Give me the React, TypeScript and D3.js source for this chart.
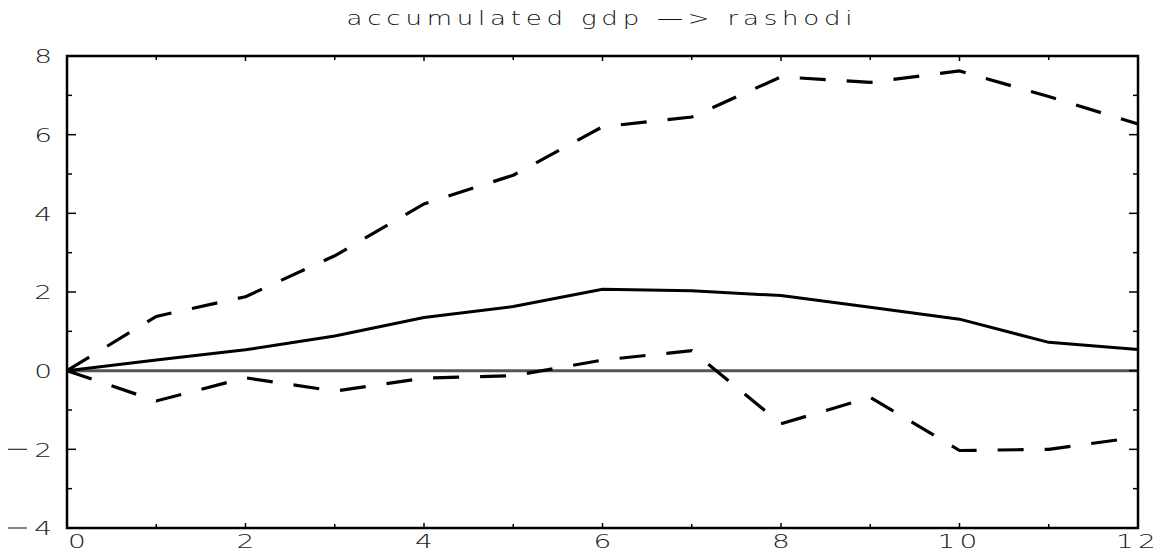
import React from "react";
import * as d3 from "d3";

const title = "accumulated gdp —> rashodi";
const horizon = [0, 1, 2, 3, 4, 5, 6, 7, 8, 9, 10, 11, 12];
const response = [0, 0.27, 0.53, 0.88, 1.35, 1.63, 2.07, 2.03, 1.91, 1.61, 1.31, 0.72, 0.54];
const upperBand = [0, 1.38, 1.88, 2.92, 4.24, 4.97, 6.2, 6.45, 7.47, 7.33, 7.62, 6.97, 6.27];
const lowerBand = [0, -0.77, -0.18, -0.52, -0.19, -0.13, 0.27, 0.51, -1.35, -0.68, -2.03, -2.0, -1.69];
const xTickLabels = [0, 2, 4, 6, 8, 10, 12];
const yTickLabels = [-4, -2, 0, 2, 4, 6, 8];

const W = 1165;
const H = 559;
const M = { left: 67, right: 27, top: 56, bottom: 31 };
const FONT = "'DejaVu Sans', sans-serif";

function Label(props: {
  x: number;
  y: number;
  anchor: "start" | "middle" | "end";
  sx: number;
  size: number;
  dy?: string;
  children: React.ReactNode;
  letterSpacing?: number;
}) {
  return (
    <g transform={`translate(${props.x},${props.y}) scale(${props.sx},1)`}>
      <text
        x={0}
        y={0}
        dy={props.dy}
        textAnchor={props.anchor}
        fontFamily={FONT}
        fontWeight={200}
        fontSize={props.size}
        letterSpacing={props.letterSpacing}
        fill="#222"
      >
        {props.children}
      </text>
    </g>
  );
}

export default function App() {
  const x = d3.scaleLinear().domain([0, 12]).range([M.left, W - M.right]);
  const y = d3.scaleLinear().domain([-4, 8]).range([H - M.bottom, M.top]);
  const line = (vals: number[]) =>
    d3
      .line<number>()
      .x((_, i) => x(horizon[i]))
      .y((v) => y(v))(vals) || "";

  const xMinor = d3.range(0, 13, 1);
  const yMinor = d3.range(-4, 9, 1);
  const [x0, x1] = x.range();
  const [yb, yt] = y.range();
  const titleSx = 1.3;

  return (
    <svg
      width={W}
      height={H}
      style={{ position: "absolute", left: 0, top: 0, background: "#fff" }}
    >
      <rect x={0} y={0} width={W} height={H} fill="#fff" />
      <g transform={`translate(${(x0 + x1) / 2 - 3},25) scale(${titleSx},1)`}>
        <text
          x={0}
          y={0}
          textAnchor="middle"
          fontFamily={FONT}
          fontWeight={200}
          fontSize={20}
          textLength={506 / titleSx}
          lengthAdjust="spacing"
          fill="#111"
        >
          {title}
        </text>
      </g>

      {/* zero line */}
      <line x1={x0} x2={x1} y1={y(0)} y2={y(0)} stroke="#555" strokeWidth={3} />

      {/* bands and response */}
      <path d={line(upperBand)} fill="none" stroke="#000" strokeWidth={3.2} strokeDasharray="26 21" />
      <path d={line(lowerBand)} fill="none" stroke="#000" strokeWidth={3.2} strokeDasharray="26 21" />
      <path d={line(response)} fill="none" stroke="#000" strokeWidth={3} />

      {/* frame */}
      <rect x={x0} y={yt} width={x1 - x0} height={yb - yt} fill="none" stroke="#000" strokeWidth={2.5} />

      {/* y ticks */}
      {yMinor.map((v) => {
        const len = v % 2 === 0 ? 9 : 5;
        return (
          <g key={"yt" + v}>
            <line x1={x0} x2={x0 + len} y1={y(v)} y2={y(v)} stroke="#000" strokeWidth={1.5} />
            <line x1={x1} x2={x1 - len} y1={y(v)} y2={y(v)} stroke="#000" strokeWidth={1.5} />
          </g>
        );
      })}
      {/* x ticks */}
      {xMinor.map((t) => {
        const len = t % 2 === 0 ? 5 : 4;
        return (
          <g key={"xt" + t}>
            <line x1={x(t)} x2={x(t)} y1={yb} y2={yb - len} stroke="#000" strokeWidth={1.5} />
            <line x1={x(t)} x2={x(t)} y1={yt} y2={yt + len} stroke="#000" strokeWidth={1.5} />
          </g>
        );
      })}

      {/* y labels */}
      {yTickLabels.map((v) => (
        <g key={"yl" + v}>
          <Label x={52} y={y(v)} dy="0.36em" anchor="end" sx={1.4} size={20}>
            {Math.abs(v)}
          </Label>
          {v < 0 && (
            <line x1={8} x2={27} y1={y(v)} y2={y(v)} stroke="#333" strokeWidth={1.2} />
          )}
        </g>
      ))}

      {/* x labels */}
      {xTickLabels.map((t) => (
        <Label
          key={"xl" + t}
          x={x(t) + (t === 0 ? 10 : 0)}
          y={548}
          anchor="middle"
          sx={1.4}
          size={20}
          letterSpacing={t >= 10 ? 3 : 0}
        >
          {t}
        </Label>
      ))}
    </svg>
  );
}
